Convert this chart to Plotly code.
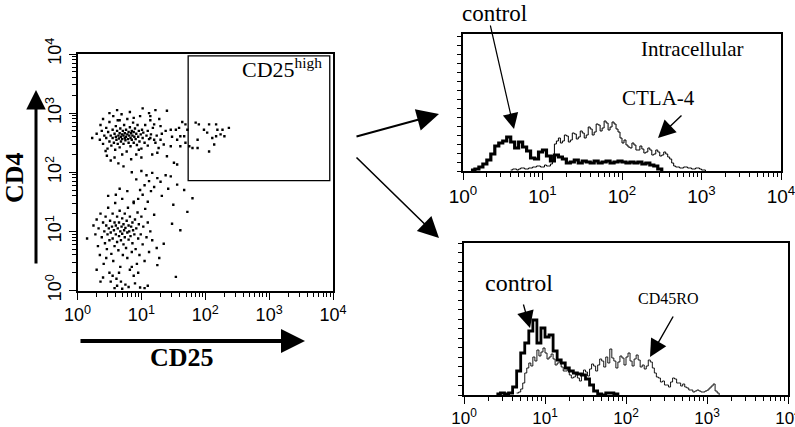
import math
import plotly.graph_objects as go

W, H = 795, 427

# ---------------- data ----------------
# Dot plot (values in log10 decades of fluorescence)
upper_cd25_log = [0.23,0.30,0.35,0.38,0.40,0.42,0.45,0.45,0.47,0.48,0.50,0.50,0.52,0.53,0.55,0.55,0.56,0.57,0.58,0.59,
                  0.60,0.60,0.61,0.62,0.63,0.63,0.64,0.65,0.66,0.66,0.67,0.68,0.68,0.69,0.70,0.70,0.71,0.72,0.72,0.73,
                  0.74,0.74,0.75,0.76,0.76,0.77,0.78,0.78,0.79,0.80,0.80,0.81,0.82,0.83,0.83,0.84,0.85,0.85,0.86,0.87,
                  0.88,0.88,0.89,0.90,0.91,0.92,0.93,0.94,0.95,0.96,0.97,0.98,0.99,1.00,1.01,1.02,1.03,1.05,1.06,1.08,
                  1.10,1.10,1.12,1.14,1.15,1.17,1.18,1.20,1.22,1.24,0.46,0.52,0.58,0.64,0.72,0.84,0.92,1.00,0.40,0.50,
                  0.62,0.82,1.02,1.12,0.36,0.44,0.70,0.96,0.66,0.88]
upper_cd4_log = [2.58,2.65,2.55,2.70,2.48,2.62,2.75,2.58,2.40,2.68,2.52,2.85,2.62,2.45,2.72,2.58,2.95,2.50,2.65,2.38,
                 2.78,2.60,2.55,2.70,2.48,2.88,2.62,2.57,2.66,2.42,2.74,2.60,2.52,2.98,2.64,2.56,2.70,2.48,2.62,2.80,
                 2.58,2.66,2.54,2.72,2.60,2.35,2.64,2.90,2.56,2.68,2.50,2.62,2.76,2.58,2.44,2.66,2.70,2.55,2.62,2.84,
                 2.50,2.68,2.60,2.74,2.56,2.65,2.46,2.80,2.60,2.70,2.52,2.95,2.64,2.40,2.72,2.58,2.67,2.50,2.80,2.62,
                 2.45,2.70,2.56,2.88,2.64,2.30,2.75,2.55,3.05,2.62,2.28,2.20,2.25,2.15,2.10,2.22,2.30,2.25,2.90,3.00,
                 3.05,3.02,3.08,3.00,2.80,2.36,2.30,2.38,2.88,2.92]

tail_cd25_log = [1.20,1.30,1.40,1.14,1.46,1.54,1.59,1.61,1.67,1.69,1.72,1.56,1.46,1.35,1.30,1.22,1.25,1.51,1.56,1.40,
                 1.27,1.14,1.61,1.69,1.75,1.32,1.48,1.38,1.64,1.28,
                 1.85,1.90,1.98,2.06,2.17,2.19,2.27,2.37,1.88,2.03,2.11,2.14,2.06,2.24,2.30,1.80,1.88,2.17]
tail_cd4_log = [2.81,2.78,3.04,2.95,2.72,2.72,2.75,2.61,2.61,2.81,2.72,2.55,2.44,2.47,2.55,2.50,2.33,2.16,2.13,2.27,
                2.41,2.58,2.44,2.50,2.44,2.65,2.60,2.70,2.85,2.90,
                2.84,2.81,2.72,2.81,2.81,2.72,2.72,2.75,2.55,2.67,2.58,2.47,2.35,2.64,2.61,2.41,2.41,2.61]

lower_cd25_log = [0.15,0.25,0.28,0.30,0.32,0.33,0.35,0.36,0.38,0.40,0.41,0.42,0.43,0.44,0.45,0.46,0.47,0.48,0.49,0.50,
                  0.50,0.51,0.52,0.53,0.54,0.55,0.55,0.56,0.57,0.58,0.58,0.59,0.60,0.60,0.61,0.62,0.62,0.63,0.64,0.65,
                  0.65,0.66,0.67,0.67,0.68,0.69,0.70,0.70,0.71,0.72,0.72,0.73,0.74,0.74,0.75,0.75,0.76,0.77,0.78,0.78,
                  0.79,0.80,0.80,0.81,0.82,0.82,0.83,0.84,0.85,0.86,0.86,0.87,0.88,0.88,0.89,0.90,0.91,0.92,0.93,0.94,
                  0.95,0.96,0.97,0.98,0.99,1.00,1.02,1.03,1.05,1.06,1.08,1.10,1.12,1.14,1.17,1.20,1.24,1.28,0.52,0.62,
                  0.70,0.80,0.90,1.05,1.10,0.58,0.68,0.40,0.30,0.36,0.45,0.55,0.65,0.85,0.95,0.48,0.60,0.70,0.78,0.66]
lower_cd4_log = [0.88,1.10,0.95,1.20,0.75,1.05,0.60,1.30,0.90,1.15,0.45,1.00,0.80,1.25,1.10,0.70,0.95,1.40,1.05,0.85,
                 0.30,1.18,0.98,0.62,1.08,1.30,0.88,0.50,1.02,1.15,0.75,1.48,0.95,1.10,0.20,0.82,1.25,1.05,0.68,0.92,
                 1.15,1.35,1.00,0.40,0.85,1.08,1.22,0.96,0.60,1.12,0.78,1.02,1.30,0.90,0.10,1.06,0.72,1.18,0.98,0.55,
                 1.40,1.10,0.86,1.00,0.35,1.25,0.92,1.08,0.65,1.15,0.80,1.02,1.50,0.25,0.95,1.20,0.70,1.05,0.45,1.32,
                 0.88,1.12,0.60,0.05,0.95,1.25,0.78,1.08,0.50,1.38,0.90,1.15,0.65,1.00,0.85,1.28,0.72,0.55,0.15,0.08,
                 0.03,0.06,0.12,0.04,0.08,0.04,0.15,0.22,0.35,0.15,0.55,0.25,0.30,0.40,0.30,1.60,1.62,1.55,1.68,1.72]

bridge_cd25_log = [0.88,0.95,0.98,1.02,1.05,1.10,1.12,1.15,1.17,1.20,1.25,1.30,1.32,1.38,1.42,1.46,1.50,1.56,1.67,1.80,
                   1.72,1.48,1.61,1.54,1.25,1.35,0.92,0.85,1.00,1.08]
bridge_cd4_log = [1.48,1.55,1.70,1.62,1.78,1.50,1.85,1.68,1.99,1.75,1.90,1.84,1.60,1.95,1.72,1.93,1.45,1.79,1.70,1.56,
                  1.33,1.13,1.02,0.23,0.43,0.79,1.88,2.00,2.02,1.95]

gate_cd25 = [54, 8900]
gate_cd4 = [72, 9300]

# Histograms: counts per channel (channel width in log10 decades), starting at the given log10 value
control_bin_log = 0.05
stain_bin_log = 0.025
top_control_start = 0.10
top_control = [1,2,4,7,11,17,25,28,30,34,29,23,29,24,20,13,12,19,21,15,10,16,14,12,8,9,11,8,10,9,
               8,10,8,9,10,8,9,10,9,8,9,8,9,7,8,6,5,2,0]
top_ctla4_start = 0.60
top_ctla4 = [1,2,2,1,2,3,3,2,2,3,3,4,4,5,5,4,4,6,5,5,7,16,27,30,33,28,30,36,35,29,
             31,38,37,32,34,40,38,33,36,44,42,36,39,47,46,40,43,50,48,41,44,49,47,42,39,33,28,31,26,24,
             23,28,26,21,21,25,22,18,19,23,21,16,17,21,19,15,16,19,17,14,12,8,5,4,4,3,3,4,4,3,
             3,2,2,3,3,2,1,1,0]
bottom_control_start = 0.40
bottom_control = [1,2,1,2,8,24,42,52,64,75,52,67,58,60,44,35,32,27,24,22,21,20,16,10,4,1,0,2,2,1,0]
bottom_cd45ro_start = 0.65
bottom_cd45ro = [2,3,6,12,22,27,32,29,38,34,45,39,43,47,42,36,38,41,36,30,32,35,28,24,24,27,20,17,18,21,
                 17,14,21,25,23,19,26,31,29,24,30,36,34,28,38,32,46,37,34,27,33,39,37,30,38,42,34,29,36,40,
                 35,28,30,26,29,35,33,27,22,18,17,13,14,10,10,8,13,17,16,12,12,9,11,8,7,5,5,3,4,5,
                 4,3,3,4,5,7,9,11,4,2,0]

decade_ticks = [1, 10, 100, 1000, 10000]
decade_labels = ["10<sup>0</sup>", "10<sup>1</sup>", "10<sup>2</sup>", "10<sup>3</sup>", "10<sup>4</sup>"]
minor_ticks = [m * 10 ** k for k in range(4) for m in range(2, 10)]


def hist_xy(start, width, counts):
    xs = [10 ** (start + i * width) for i in range(len(counts))]
    return xs, counts


def px(x):
    return x / W


def py(y):
    return 1 - y / H


fig = go.Figure()

# Dot plot
dot_x = [10 ** v for v in upper_cd25_log + tail_cd25_log + lower_cd25_log + bridge_cd25_log]
dot_y = [10 ** v for v in upper_cd4_log + tail_cd4_log + lower_cd4_log + bridge_cd4_log]
fig.add_trace(go.Scatter(x=dot_x, y=dot_y, mode="markers", xaxis="x", yaxis="y",
                         marker=dict(symbol="square", size=2.4, color="black", line=dict(width=0)),
                         showlegend=False, hoverinfo="skip"))

# Top histogram
x, y = hist_xy(top_ctla4_start, stain_bin_log, top_ctla4)
fig.add_trace(go.Scatter(x=x, y=y, mode="lines", line=dict(shape="hv", color="black", width=1.0),
                         xaxis="x2", yaxis="y2", showlegend=False))
x, y = hist_xy(top_control_start, control_bin_log, top_control)
fig.add_trace(go.Scatter(x=x, y=y, mode="lines", line=dict(shape="hv", color="black", width=3.2),
                         xaxis="x2", yaxis="y2", showlegend=False))

# Bottom histogram
x, y = hist_xy(bottom_cd45ro_start, stain_bin_log, bottom_cd45ro)
fig.add_trace(go.Scatter(x=x, y=y, mode="lines", line=dict(shape="hv", color="black", width=0.9),
                         xaxis="x3", yaxis="y3", showlegend=False))
x, y = hist_xy(bottom_control_start, control_bin_log, bottom_control)
fig.add_trace(go.Scatter(x=x, y=y, mode="lines", line=dict(shape="hv", color="black", width=2.8),
                         xaxis="x3", yaxis="y3", showlegend=False))

tickfont = dict(family="Liberation Sans, Arial, sans-serif", size=18, color="black")


def log_axis(domain, **kw):
    d = dict(type="log", range=[0, 4], domain=domain, showline=True, linecolor="black", linewidth=2,
             mirror=True, ticks="outside", ticklen=7, tickwidth=1.3, tickcolor="black",
             tickvals=decade_ticks, ticktext=decade_labels, tickfont=tickfont, automargin=False,
             ticklabeloverflow="allow", showgrid=False, zeroline=False,
             minor=dict(tickmode="array", tickvals=minor_ticks, ticks="outside", ticklen=4,
                        tickwidth=1, tickcolor="black", showgrid=False))
    d.update(kw)
    return d


fig.update_layout(
    width=W, height=H, margin=dict(l=0, r=0, t=0, b=0, autoexpand=False),
    plot_bgcolor="white", paper_bgcolor="white",
    xaxis=log_axis([px(77.5), px(333)], anchor="y"),
    yaxis=log_axis([py(290.5), py(54)], anchor="x", tickangle=-90),
    xaxis2=log_axis([px(463), px(781)], anchor="y2", tickfont=dict(tickfont, size=19)),
    yaxis2=dict(domain=[py(171), py(34)], anchor="x2", range=[0, 137], showline=True, linecolor="black",
                linewidth=2, mirror=True, ticks="outside", ticklen=4, dtick=9, tickcolor="black",
                showticklabels=False, showgrid=False, zeroline=False, automargin=False),
    xaxis3=log_axis([px(464), px(788)], anchor="y3",
                    tickfont=dict(family="Liberation Sans Narrow, Liberation Sans, sans-serif", size=17, color="black")),
    yaxis3=dict(domain=[py(395), py(243)], anchor="x3", range=[0, 152], showline=True, linecolor="black",
                linewidth=2, mirror=True, ticks="outside", ticklen=4, dtick=9.5, tickcolor="black",
                showticklabels=False, showgrid=False, zeroline=False, automargin=False),
)

# Gate rectangle (data units on the log axes)
fig.add_shape(type="rect", xref="x", yref="y",
              x0=gate_cd25[0], x1=gate_cd25[1], y0=gate_cd4[0], y1=gate_cd4[1],
              line=dict(color="black", width=1.3))

serif = "Liberation Serif, Times New Roman, serif"


def text(t, x, y, size, bold=False, angle=0, xanchor="center"):
    fig.add_annotation(xref="paper", yref="paper", x=px(x), y=py(y), text=("<b>%s</b>" % t) if bold else t,
                       showarrow=False, xanchor=xanchor, yanchor="middle", textangle=angle,
                       font=dict(family=serif, size=size, color="black"))


def arrow(tail, head, width, size=1.0, style=2):
    fig.add_annotation(xref="paper", yref="paper", x=px(head[0]), y=py(head[1]), text="",
                       showarrow=True, axref="pixel", ayref="pixel",
                       ax=tail[0] - head[0], ay=tail[1] - head[1],
                       arrowhead=style, arrowsize=size, arrowwidth=width, arrowcolor="black", standoff=0)


text("CD25<sup>high</sup>", 240, 68, 22, xanchor="left")
text("CD25", 182, 357, 26, bold=True)
text("CD4", 14, 178, 26, bold=True, angle=-90)
text("Intracellular", 692, 49, 21)
text("CTLA-4", 658, 98, 21)
text("control", 494, 13, 23)
text("control", 519, 283, 24)
text("CD45RO", 668, 298, 16)

arrow((36, 265), (36, 90), 3, 1.3)
arrow((79, 341), (305, 341), 4, 1.2)
arrow((355, 137), (439, 114), 2, 2.2)
arrow((355, 156), (439, 238), 1.6, 2.6)
arrow((490, 24), (514, 129), 1.2, 2.6)
arrow((683, 114), (658, 138), 1.4, 2.5)
arrow((523, 303), (530, 328), 1.3, 2.6)
arrow((674, 315), (650, 357), 1.4, 2.5)

fig.write_html("out.html", config={"displayModeBar": False},
               post_script="document.body.style.margin='0px';document.body.style.padding='0px';")
